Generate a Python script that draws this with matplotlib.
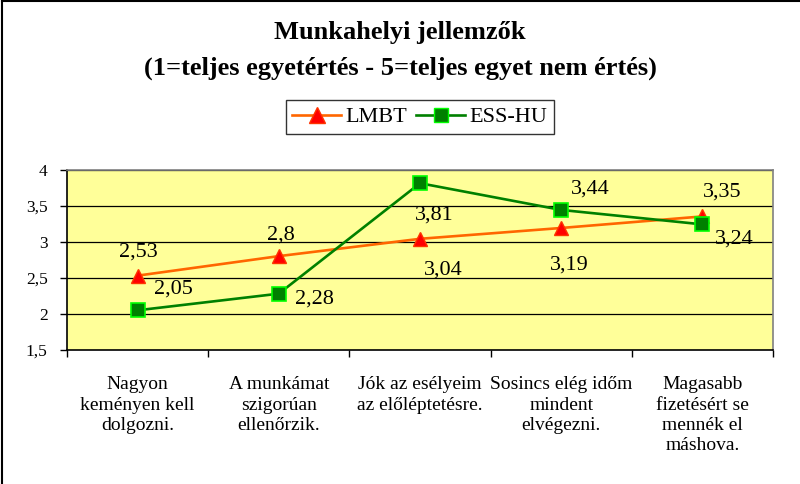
import matplotlib
matplotlib.use("Agg")
import matplotlib.pyplot as plt
from matplotlib.lines import Line2D

plt.rcParams['font.family'] = ['Liberation Serif', 'DejaVu Serif']

# data
categories = ["Nagyon\nkeményen kell\ndolgozni.",
              "A munkámat\nszigorúan\nellenőrzik.",
              "Jók az esélyeim\naz előléptetésre.",
              "Sosincs elég időm\nmindent\nelvégezni.",
              "Magasabb\nfizetésért se\nmennék el\nmáshova."]
lmbt = [2.53, 2.8, 3.04, 3.19, 3.35]
ess_hu = [2.05, 2.28, 3.81, 3.44, 3.24]
yticks = [1.5, 2, 2.5, 3, 3.5, 4]
ytick_labels = ["1,5", "2", "2,5", "3", "3,5", "4"]

# label offsets in pixels (Excel-like placement)
lmbt_off = [(1, 24), (2, 21), (23, -31), (8, -37), (20, 24)]
ess_off = [(36, 21), (36, -5), (14, -32), (29, 21), (32, -15)]

fig = plt.figure(figsize=(8, 4.84), dpi=100)
ax = fig.add_axes([67/800, 1 - 350/484, (773-67)/800, (350-169.5)/484])
ax.set_facecolor('#FFFF99')

x = list(range(len(categories)))
ax.plot(x, lmbt, color='#FF6600', lw=1.9, marker='^', markersize=10.5,
        markerfacecolor='#FF0000', markeredgecolor='#FF3300', zorder=3)
ax.plot(x, ess_hu, color='#008000', lw=1.9, marker='s', markersize=9.5,
        markerfacecolor='#008000', markeredgecolor='#00FF00', markeredgewidth=1.2, zorder=4)

def fmt(v):
    return ("%g" % v).replace('.', ',')

for i, v in enumerate(lmbt):
    ax.annotate(fmt(v), (i, v), xytext=lmbt_off[i], textcoords='offset pixels',
                ha='center', va='center', fontsize=16, zorder=5)
for i, v in enumerate(ess_hu):
    ax.annotate(fmt(v), (i, v), xytext=ess_off[i], textcoords='offset pixels',
                ha='center', va='center', fontsize=16, zorder=5)

ax.set_xlim(-0.5, 4.5)
ax.set_ylim(1.5, 4)
ax.set_yticks(yticks)
ax.set_yticklabels(ytick_labels, fontsize=12.5)
for yv in yticks[1:]:
    ax.axhline(yv, color='black', lw=0.9, zorder=1)

ax.set_xticks([i - 0.5 for i in range(len(categories) + 1)])
ax.set_xticklabels([])
ax.set_xticks(x, minor=True)
ax.set_xticklabels(categories, minor=True, fontsize=14, linespacing=1.25, va='top')
ax.tick_params(axis='x', which='minor', length=0, pad=19)
ax.tick_params(axis='x', which='major', length=5, width=1, direction='out')
ax.tick_params(axis='y', length=5, width=1, direction='out', pad=9)

ax.spines['left'].set_color('black')
ax.spines['bottom'].set_color('black')
ax.spines['top'].set_color('#808080')
ax.spines['right'].set_color('#808080')
for s in ax.spines.values():
    s.set_linewidth(1.2)

fig.text(0.5, 1 - 33/484, "Munkahelyi jellemzők", ha='center', va='center',
         fontsize=19, fontweight='bold')
fig.text(0.5, 1 - 68/484, "(1=teljes egyetértés - 5=teljes egyet nem értés)",
         ha='center', va='center', fontsize=19, fontweight='bold')

handles = [Line2D([], [], color='#FF6600', lw=1.9, marker='^', markersize=11,
                  markerfacecolor='#FF0000', markeredgecolor='#FF3300'),
           Line2D([], [], color='#008000', lw=1.9, marker='s', markersize=10,
                  markerfacecolor='#008000', markeredgecolor='#00FF00')]
leg = fig.legend(handles, ["LMBT", "ESS-HU"], loc='center',
                 bbox_to_anchor=(420/800, 1 - 117/484), ncol=2, fontsize=16,
                 frameon=True, fancybox=False, edgecolor='black',
                 handlelength=2.2, handletextpad=0.2, columnspacing=0.4,
                 borderpad=0.3, borderaxespad=0)
leg.get_frame().set_linewidth(1.0)

# outer chart border (left and top visible)
fig.add_artist(Line2D([0.003, 0.003], [0, 0.997], color='black', lw=1.5, transform=fig.transFigure))
fig.add_artist(Line2D([0.003, 1], [0.997, 0.997], color='black', lw=1.5, transform=fig.transFigure))

fig.savefig("out.png", dpi=100)
